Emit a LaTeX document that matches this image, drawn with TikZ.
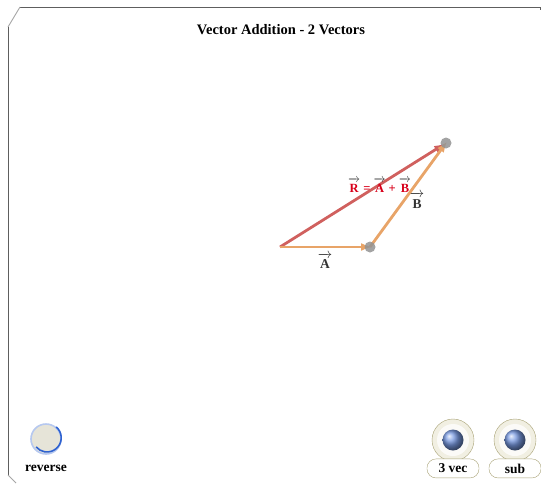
\documentclass[tikz,border=0pt]{standalone}
\usepackage{fontspec}
\setmainfont{Liberation Serif}
\usepackage{amsmath}
\usetikzlibrary{arrows.meta,positioning,shapes}

\definecolor{vekorange}{HTML}{E8A468}
\definecolor{vekrot}{HTML}{D0605E}
\definecolor{resrot}{HTML}{D8001A}
\definecolor{knopfrand}{HTML}{A8A276}
\definecolor{knopfbeige}{HTML}{F1EFE2}
\definecolor{rahmengrau}{HTML}{5E5E5E}
\definecolor{knopfblau}{HTML}{2F62D0}

% Buchstabe mit schwarzem Pfeil darueber
\newcommand{\vekpfeil}[2][black!80]{{\color{black!85}$\overrightarrow{\mbox{\raisebox{0pt}[\dimexpr\height+2pt\relax]{\color{#1}#2}}}$}}

\begin{document}
\begin{tikzpicture}[x=1pt, y=-1pt,
				>={Latex[length=11pt,width=8pt]},   %Voreinstellung für Pfeilspitzen
				vekA/.style={line width=2.8pt, ->, color=vekorange, shorten >=-2pt},
				vekR/.style={line width=2.8pt, ->, color=vekrot, shorten >=1pt},
				punkt/.style={circle, fill=gray!85, fill opacity=0.85, minimum size=11pt, inner sep=0pt},
				knopf/.style={circle, draw=knopfrand, fill=knopfbeige, minimum size=42pt, inner sep=0pt},
				ring/.style={circle, fill=white, fill opacity=0.75, minimum size=32pt, inner sep=0pt},
				kugel/.style={circle, shading=ball, ball color=knopfblau!65!white, minimum size=21pt, inner sep=0pt},
				schild/.style={rounded corners=9pt, draw=knopfrand, fill=white, minimum width=52pt, minimum height=19pt, inner sep=0pt},
				font=\bfseries\fontsize{13.5}{15}\selectfont]
				\useasboundingbox (0,0) rectangle (541,483);
				%Rahmen zeichnen
				\draw[rahmengrau, line width=0.9pt] (20,7) -- (540,7) -- (540,10);
				\draw[gray!70, line width=0.9pt] (8,27) -- (20,7);
				\draw[rahmengrau, line width=0.9pt] (8,27) -- (8,475);
				\draw[gray!70, line width=0.9pt] (8,475) -- (16,483);
				% Titel
				\node[font=\bfseries\fontsize{14.5}{16}\selectfont] (titel) at (281,30) {Vector Addition - 2 Vectors};
				% Punkte
				\coordinate (O) at (280,247);
				\coordinate (P) at (370,247);
				\coordinate (Q) at (446,143);
				% Vektoren zeichnen
				\draw[vekR] (O) -- (Q) node[pos=0.6, yshift=-1pt, text=resrot, font=\bfseries\fontsize{12.5}{14}\selectfont] (Rtxt) {\vekpfeil[resrot]{R} = \vekpfeil[resrot]{A} + \vekpfeil[resrot]{B}};
				\draw[vekA] (O) -- (P) node[midway, below=1pt] (Atxt) {\vekpfeil{A}};
				\draw[vekA] (P) -- (Q) node[midway, xshift=9pt, yshift=-5pt] (Btxt) {\vekpfeil{B}};
				\node[punkt] (Ppkt) at (P) {};
				\node[punkt] (Qpkt) at (Q) {};
				% Knopf reverse
				\node[circle, fill=knopfbeige!90!gray, draw=knopfblau!35!white, line width=1.6pt, minimum size=30pt, inner sep=0pt] (rev) at (46,439) {};
				\draw[knopfblau, line width=1.6pt] (rev.50) arc[start angle=50, end angle=-140, radius=14.2pt];
				\node[below=7pt of rev] (revtxt) {reverse};
				% Knoepfe 3 vec und sub
				\foreach \name/\x/\txt in {vec/453/3 vec, sub/515/sub} {
					\node[knopf] (\name) at (\x,440) {};
					\node[ring] (\name ring) at (\x,440) {};
					\node[kugel] (\name kugel) at (\x,440) {};
					\node[schild, below=-2.5pt of \name] (\name txt) {\txt};
				}
			\end{tikzpicture}
\end{document}
